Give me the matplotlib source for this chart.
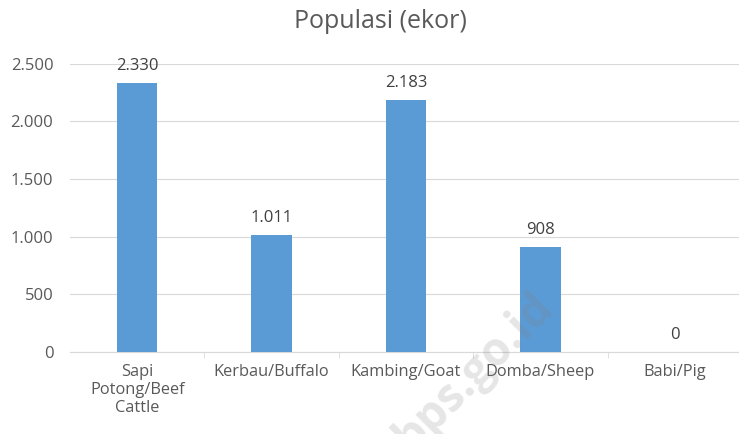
import matplotlib.pyplot as plt
from matplotlib.ticker import FuncFormatter

categories = ["Sapi\nPotong/Beef\nCattle", "Kerbau/Buffalo", "Kambing/Goat", "Domba/Sheep", "Babi/Pig"]
populasi = [2330, 1011, 2183, 908, 0]
y_ticks = [0, 500, 1000, 1500, 2000, 2500]


def fmt(v):
    return f"{int(v):,}".replace(",", ".")


plt.rcParams['font.family'] = ['Open Sans', 'DejaVu Sans']

fig = plt.figure(figsize=(7.39, 4.34), dpi=100)
ax = fig.add_axes([70 / 739, 0.189, 672 / 739, 0.664])

x = range(len(categories))
bars = ax.bar(x, populasi, width=0.30, color='#5B9BD5', zorder=3)

for xi, v in zip(x, populasi):
    ax.text(xi, v + 80, fmt(v), ha='center', va='bottom', fontsize=12, color='#404040')

ax.set_xlim(-0.5, len(categories) - 0.5)
ax.set_ylim(0, 2500)
ax.set_yticks(y_ticks)
ax.yaxis.set_major_formatter(FuncFormatter(lambda v, p: fmt(v)))
ax.grid(axis='y', color='#D9D9D9', linewidth=0.8, zorder=0)

ax.set_xticks(x)
ax.set_xticklabels(categories, fontsize=11.8, color='#595959', linespacing=1.15)
ax.set_xticks([i - 0.5 for i in range(1, len(categories))], minor=True)
ax.tick_params(axis='x', which='major', length=0, pad=9)
ax.tick_params(axis='x', which='minor', length=4, color='#D9D9D9')
ax.tick_params(axis='y', length=0, labelsize=12, labelcolor='#595959', pad=12)

for s in ['top', 'right', 'left']:
    ax.spines[s].set_visible(False)
ax.spines['bottom'].set_color('#D9D9D9')

fig.text(380 / 739, 1 - 22 / 434, "Populasi (ekor)", fontsize=18, color='#595959',
         ha='center', va='center')

# faint watermark, drawn over everything like the source image
fig.text(474 / 739, 1 - 372 / 434, "bps.go.id", fontsize=33, color='#808080', alpha=0.2,
         rotation=45, ha='center', va='center', fontweight='bold', zorder=10)

fig.savefig('out.png', dpi=100)
